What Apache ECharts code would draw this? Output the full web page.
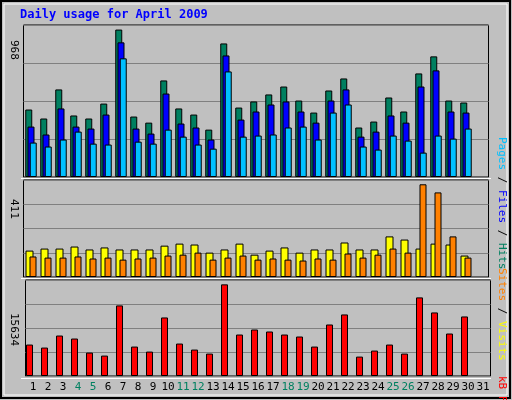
<!DOCTYPE html>
<html>
<head>
<meta charset="utf-8">
<script src="https://cdn.jsdelivr.net/npm/echarts@6/dist/echarts.min.js"></script>
<style>html,body{margin:0;padding:0;background:#c0c0c0}#chart{width:512px;height:400px}</style>
</head>
<body>
<div id="chart"></div>
<script>
// Daily usage data
var days = ['1','2','3','4','5','6','7','8','9','10','11','12','13','14','15','16','17','18','19','20','21','22','23','24','25','26','27','28','29','30','31'];
var weekend = ['4','5','11','12','18','19','25','26'];
var hits  = [443,384,575,404,384,482,968,397,357,634,450,410,311,877,456,496,542,594,502,423,568,647,325,364,522,430,680,792,502,489];
var files = [331,279,450,331,318,410,884,318,285,548,351,325,246,798,377,430,476,496,430,357,502,575,265,298,404,357,594,700,430,423];
var pages = [226,200,246,298,219,213,779,232,219,311,265,213,186,693,265,272,279,325,331,246,423,476,200,180,272,239,160,272,252,318];
var visits = [117,126,126,135,122,131,122,122,122,139,148,144,108,122,148,99,117,131,108,122,122,153,122,122,180,166,126,148,144,95];
var sites  = [91,86,86,91,82,86,77,82,86,95,99,108,77,86,95,77,82,77,73,82,77,104,86,99,126,108,411,375,180,86];
var kbytes = [5364,4850,6904,6391,3994,3481,12040,5021,4165,9986,5535,4508,3823,15634,7075,7931,7589,7075,6733,5021,8787,10499,3309,4337,5364,3823,13409,10841,7247,10157];
var maxLabels = ['968', '411', '15634'];

var font = '"DejaVu Sans Mono", monospace';
var bar = { borderColor: '#000', borderWidth: 1 };
var up = -Math.PI / 2;   // text reading bottom to top

function grid(left, top, h) {
    return { left: left, top: top, width: 465, height: h, show: true,
             backgroundColor: '#c0c0c0', borderColor: '#000', borderWidth: 1 };
}
function xAx(i, labels) {
    return { type: 'category', gridIndex: i, data: days, axisTick: { show: false },
             axisLine: { show: false },
             axisLabel: { show: labels, interval: 0, fontFamily: font, fontSize: 11, margin: 6,
                          color: function(v) { return weekend.indexOf(v) >= 0 ? '#008060' : '#000'; } } };
}
function yAx(i, max) {
    return { type: 'value', gridIndex: i, min: 0, max: max, interval: max / 4,
             axisLabel: { show: false }, axisLine: { show: false }, axisTick: { show: false },
             splitLine: { lineStyle: { color: '#808080', width: 1 } } };
}
function s(name, data, color, xi, w, gap) {
    return { type: 'bar', name: name, data: data, xAxisIndex: xi, yAxisIndex: xi,
             barWidth: w, barGap: gap, silent: true, animation: false,
             itemStyle: Object.assign({ color: color }, bar) };
}
function vtext(x, y, parts) {
    var text = parts.map(function(p) { return '{' + p[0] + '|' + p[1] + '}'; }).join('');
    var rich = {};
    parts.forEach(function(p) { rich[p[0]] = { fill: p[2], fontFamily: font, fontSize: 11 }; });
    return { type: 'text', x: x, y: y, rotation: up,
             style: { text: text, rich: rich, align: 'left', verticalAlign: 'middle' } };
}
function ylab(y, t) {
    return { type: 'text', x: 14, y: y, rotation: up,
             style: { text: t, fill: '#000', fontFamily: font, fontSize: 11, align: 'left', verticalAlign: 'middle' } };
}

var chart = echarts.init(document.getElementById('chart'));
chart.setOption({
    backgroundColor: '#c0c0c0',
    animation: false,
    grid: [grid(23.5, 25, 152), grid(23.5, 180, 97), grid(25.5, 280, 96)],
    xAxis: [xAx(0, false), xAx(1, false), xAx(2, true)],
    yAxis: [yAx(0, 998), yAx(1, 430), yAx(2, 16376)],
    series: [
        s('Hits', hits, '#008060', 0, 7, '-68%'),
        s('Files', files, '#0000ff', 0, 7, '-68%'),
        s('Pages', pages, '#00c0ff', 0, 7, '-68%'),
        s('Visits', visits, '#ffff00', 1, 8, '-50%'),
        s('Sites', sites, '#ff8000', 1, 7, '-50%'),
        s('kB F', kbytes, '#ff0000', 2, 7, 0),
        s('pad', [], 'transparent', 2, 7, 0)
    ],
    graphic: [
        { type: 'rect', shape: { x: 1, y: 1, width: 509, height: 397 }, silent: true,
          style: { fill: 'none', stroke: '#000', lineWidth: 2 } },
        { type: 'rect', shape: { x: 4, y: 4, width: 503, height: 391 }, silent: true,
          style: { fill: 'none', stroke: '#ffffff', lineWidth: 1 } },
        { type: 'line', shape: { x1: 21, y1: 178.5, x2: 491, y2: 178.5 }, style: { stroke: '#fff' } },
        { type: 'line', shape: { x1: 21, y1: 278.5, x2: 491, y2: 278.5 }, style: { stroke: '#fff' } },
        { type: 'line', shape: { x1: 21, y1: 378.5, x2: 491, y2: 378.5 }, style: { stroke: '#fff' } },
        { type: 'text', x: 20, y: 15, style: { text: 'Daily usage for April 2009', fill: '#0000ff',
          fontFamily: font, fontSize: 12, fontWeight: 'bold', verticalAlign: 'middle' } },
        ylab(40, maxLabels[0]),
        ylab(199, maxLabels[1]),
        ylab(313, maxLabels[2]),
        vtext(502, 137, [['a', 'Pages', '#00c0ff'], ['b', ' / ', '#000'], ['c', 'Files', '#0000ff'],
                         ['d', ' / ', '#000'], ['e', 'Hits', '#008060']]),
        vtext(502, 268, [['a', 'Sites', '#ff8000'], ['b', ' / ', '#000'], ['c', 'Visits', '#ffff00']]),
        vtext(502, 376, [['a', 'kB F', '#ff0000'], ['b', ' / ', '#000'], ['c', 'kB In', '#0000ff'],
                         ['d', ' / ', '#000'], ['e', 'kB Out', '#008060']])
    ]
});
</script>
</body>
</html>
